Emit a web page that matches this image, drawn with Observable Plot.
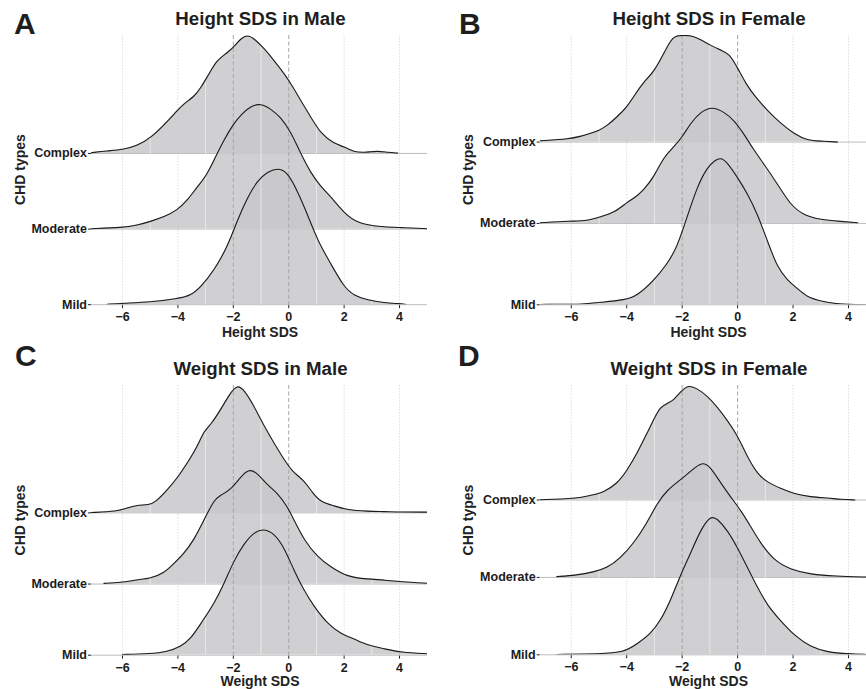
<!DOCTYPE html>
<html><head><meta charset="utf-8">
<script src="https://cdn.jsdelivr.net/npm/d3@7"></script>
<script src="https://cdn.jsdelivr.net/npm/@observablehq/plot@0.6"></script>
<style>
html,body{margin:0;padding:0;background:#fff;overflow:hidden}
#wrap{position:relative;width:866px;height:689px;overflow:hidden;font-family:"Liberation Sans",Arial,Helvetica,sans-serif}
#wrap svg{position:absolute}
svg.ridge text{font-size:12.5px !important;font-weight:bold !important;fill:#1c1c1c}
</style></head><body><div id="wrap"></div>
<script>
// Categories (bottom to top) and axis ticks
const categories = ["Mild", "Moderate", "Complex"];
const xTicks = [-6, -4, -2, 0, 2, 4];
const majorGrid = [-6, -4, 2, 4];
const minorGrid = [-5, -3, -1, 1, 3];
const refLines = [-2, 0];
const panelLetters = ["A", "B", "C", "D"];
const panelTitles = ["Height SDS in Male", "Height SDS in Female", "Weight SDS in Male", "Weight SDS in Female"];
const xLabels = ["Height SDS", "Height SDS", "Weight SDS", "Weight SDS"];
const yLabel = "CHD types";

// Ridge heights [SDS value, height in row units]
const hmComplex = [[-7.13,0.01],[-6.55,0.035],[-6.0,0.05],[-5.47,0.10],[-4.93,0.22],[-4.39,0.42],[-4.02,0.57],[-3.78,0.66],[-3.42,0.75],[-3.18,0.86],[-2.81,1.10],[-2.58,1.23],[-2.34,1.30],[-2.10,1.37],[-1.98,1.41],[-1.73,1.52],[-1.49,1.57],[-1.25,1.52],[-0.89,1.39],[-0.53,1.23],[-0.17,1.06],[0.19,0.86],[0.43,0.70],[0.80,0.48],[1.16,0.26],[1.64,0.13],[2.0,0.09],[2.36,0.02],[2.72,0.01],[3.2,0.035],[3.57,0.013],[3.93,0.005]];
const hmModerate = [[-7.13,0.005],[-6.0,0.02],[-5.47,0.05],[-5.0,0.10],[-4.5,0.16],[-4.02,0.25],[-3.66,0.38],[-3.3,0.56],[-3.0,0.69],[-2.7,0.91],[-2.34,1.18],[-1.98,1.40],[-1.73,1.51],[-1.37,1.63],[-1.01,1.66],[-0.65,1.59],[-0.29,1.48],[0.07,1.29],[0.43,1.00],[0.80,0.74],[1.16,0.56],[1.52,0.43],[2.0,0.21],[2.48,0.08],[3.2,0.03],[4.05,0.02],[5.01,0.005]];
const hmMild = [[-6.55,0.005],[-6.0,0.02],[-5.0,0.035],[-4.02,0.08],[-3.54,0.12],[-3.18,0.23],[-2.7,0.45],[-2.22,0.76],[-1.86,1.11],[-1.49,1.42],[-1.13,1.64],[-0.77,1.76],[-0.35,1.81],[-0.05,1.75],[0.31,1.51],[0.67,1.20],[1.04,0.85],[1.52,0.54],[2.0,0.23],[2.36,0.12],[2.84,0.06],[3.45,0.026],[3.99,0.013],[4.23,0.004]];

const hfComplex = [[-7.12,0.016],[-6.04,0.04],[-5.67,0.07],[-5.37,0.10],[-5.01,0.14],[-4.71,0.20],[-4.35,0.31],[-3.99,0.43],[-3.69,0.59],[-3.39,0.74],[-3.02,0.86],[-2.66,1.09],[-2.42,1.25],[-2.22,1.31],[-1.95,1.31],[-1.65,1.31],[-1.34,1.26],[-0.98,1.19],[-0.61,1.13],[-0.31,1.09],[-0.01,0.92],[0.29,0.72],[0.65,0.55],[1.07,0.39],[1.55,0.23],[2.04,0.10],[2.52,0.02],[3.0,0.012],[3.6,0.0]];
const hfModerate = [[-7.12,0.008],[-6.04,0.03],[-5.43,0.03],[-4.95,0.08],[-4.41,0.14],[-3.99,0.26],[-3.69,0.32],[-3.39,0.41],[-3.02,0.57],[-2.66,0.82],[-2.30,0.94],[-2.0,1.06],[-1.70,1.23],[-1.34,1.37],[-0.92,1.44],[-0.49,1.37],[-0.13,1.27],[0.23,1.10],[0.59,0.90],[0.95,0.73],[1.43,0.49],[1.92,0.22],[2.40,0.10],[3.0,0.045],[3.72,0.025],[4.33,0.008]];
const hfMild = [[-7.12,0.004],[-6.04,0.008],[-5.67,0.004],[-4.95,0.03],[-4.05,0.06],[-3.63,0.11],[-3.02,0.30],[-2.54,0.50],[-2.18,0.71],[-1.82,1.08],[-1.46,1.45],[-1.10,1.69],[-0.80,1.78],[-0.61,1.81],[-0.37,1.75],[-0.01,1.57],[0.35,1.37],[0.71,1.12],[1.07,0.79],[1.43,0.46],[1.80,0.30],[2.16,0.20],[2.52,0.09],[3.0,0.045],[3.6,0.012],[3.96,0.004],[4.69,0.0]];

const wmComplex = [[-7.13,0.005],[-6.19,0.02],[-5.83,0.07],[-5.47,0.11],[-5.05,0.11],[-4.81,0.15],[-4.39,0.32],[-4.02,0.49],[-3.66,0.70],[-3.30,0.93],[-3.06,1.15],[-2.81,1.24],[-2.46,1.45],[-2.10,1.69],[-1.86,1.80],[-1.61,1.73],[-1.25,1.50],[-0.89,1.22],[-0.53,0.98],[-0.17,0.75],[0.13,0.58],[0.55,0.46],[0.86,0.28],[1.16,0.15],[1.64,0.10],[2.12,0.04],[2.84,0.023],[3.45,0.019],[4.05,0.01],[5.01,0.01]];
const wmModerate = [[-6.67,0.01],[-6.07,0.02],[-5.47,0.06],[-4.99,0.08],[-4.51,0.15],[-4.14,0.29],[-3.78,0.43],[-3.42,0.62],[-3.06,0.90],[-2.70,1.18],[-2.46,1.25],[-2.10,1.32],[-1.73,1.51],[-1.43,1.62],[-1.13,1.56],[-0.77,1.39],[-0.41,1.28],[-0.05,1.09],[0.19,0.90],[0.55,0.62],[1.04,0.38],[1.52,0.24],[2.12,0.10],[2.84,0.07],[3.45,0.056],[4.05,0.033],[5.01,0.01]];
const wmMild = [[-6.0,0.01],[-4.99,0.02],[-4.39,0.05],[-3.90,0.12],[-3.54,0.23],[-3.18,0.44],[-2.70,0.72],[-2.34,1.00],[-1.98,1.33],[-1.61,1.57],[-1.25,1.73],[-0.89,1.78],[-0.53,1.71],[-0.17,1.52],[0.19,1.19],[0.55,0.91],[0.92,0.68],[1.40,0.44],[1.88,0.30],[2.36,0.23],[2.84,0.14],[3.45,0.09],[4.05,0.04],[5.01,0.02]];

const wfComplex = [[-7.12,0.004],[-5.80,0.017],[-5.31,0.06],[-4.83,0.10],[-4.35,0.21],[-3.99,0.38],[-3.63,0.60],[-3.27,0.86],[-2.96,1.09],[-2.78,1.20],[-2.54,1.25],[-2.30,1.29],[-2.06,1.40],[-1.76,1.49],[-1.46,1.44],[-1.10,1.35],[-0.73,1.20],[-0.37,1.03],[-0.01,0.84],[0.35,0.56],[0.71,0.34],[1.07,0.23],[1.55,0.15],[2.04,0.08],[2.64,0.04],[3.25,0.026],[3.72,0.009],[4.23,0.0]];
const wfModerate = [[-6.52,0.01],[-5.80,0.03],[-5.19,0.07],[-4.71,0.12],[-4.23,0.25],[-3.75,0.44],[-3.27,0.70],[-2.90,0.96],[-2.54,1.13],[-2.06,1.26],[-1.70,1.37],[-1.28,1.50],[-0.98,1.43],[-0.61,1.22],[-0.25,1.04],[0.11,0.87],[0.47,0.66],[0.83,0.44],[1.31,0.22],[1.92,0.10],[2.64,0.04],[3.48,0.017],[4.69,0.004]];
const wfMild = [[-6.52,0.004],[-4.95,0.013],[-4.11,0.03],[-3.63,0.14],[-3.14,0.27],[-2.78,0.44],[-2.42,0.70],[-2.06,1.03],[-1.70,1.31],[-1.34,1.61],[-0.98,1.80],[-0.73,1.76],[-0.37,1.61],[-0.01,1.39],[0.35,1.13],[0.71,0.875],[1.07,0.64],[1.55,0.44],[2.04,0.25],[2.64,0.10],[3.25,0.034],[3.96,0.013],[4.69,0.004]];

const panelRows = [
  [hmMild, hmModerate, hmComplex],
  [hfMild, hfModerate, hfComplex],
  [wmMild, wmModerate, wmComplex],
  [wfMild, wfModerate, wfComplex]
];
const yTops = [3.56, 3.31, 3.79, 3.48];

// layout (pixels)
const layout = [
  {left: 0,   top: 0,   width: 433, height: 330, mL: 91,    mR: 6, mT: 35, mB: 25.8},
  {left: 433, top: 0,   width: 443, height: 330, mL: 106.7, mR: 0, mT: 35, mB: 25.7},
  {left: 0,   top: 340, width: 433, height: 349, mL: 91,    mR: 6, mT: 45, mB: 34.3},
  {left: 433, top: 340, width: 443, height: 349, mL: 106.7, mR: 0, mT: 45, mB: 34.7}
];

const wrap = document.getElementById("wrap");
const FONT = '"Liberation Sans", Arial, Helvetica, sans-serif';
const CURVE = "basis";

panelRows.forEach((rows, p) => {
  const L = layout[p];
  const tables = rows.map((pts, i) => pts.map(([x, h]) => ({x, base: i, top: i + h})));
  const marks = [
    Plot.ruleX(majorGrid, {stroke: "#d4d4d4", strokeWidth: 0.8, strokeDasharray: "1.5,1.5"}),
    Plot.ruleY([0, 1, 2], {stroke: "#bdbdbd", strokeWidth: 1})
  ];
  for (let i = 2; i >= 0; i--) {
    marks.push(Plot.areaY(tables[i], {x: "x", y1: "base", y2: "top", fill: "#c8c8ca", fillOpacity: 0.85, curve: CURVE, clip: true}));
  }
  marks.push(Plot.ruleX(minorGrid, {stroke: "#ffffff", strokeWidth: 0.9, strokeOpacity: 0.6}));
  marks.push(Plot.ruleX(refLines, {stroke: "#a6a6a6", strokeWidth: 1, strokeDasharray: "4,2.5"}));
  for (let i = 2; i >= 0; i--) {
    marks.push(Plot.lineY(tables[i], {x: "x", y: "top", stroke: "#1a1a1a", strokeWidth: 1.1, curve: CURVE, clip: true}));
  }
  const svg = Plot.plot({
    className: "ridge",
    width: L.width, height: L.height,
    marginLeft: L.mL, marginRight: L.mR, marginTop: L.mT, marginBottom: L.mB,
    style: {fontFamily: FONT, fontSize: "12.5px", fontWeight: "bold", color: "#222", background: "transparent", overflow: "visible"},
    x: {domain: [-7.12, 5.01], ticks: xTicks, tickSize: 4, tickPadding: 3.5, label: null},
    y: {domain: [0, yTops[p]], ticks: [0, 1, 2], tickFormat: d => categories[d], tickSize: 3, tickPadding: 1.5, label: null},
    marks
  });
  svg.classList.add("ridge");
  svg.style.left = L.left + "px";
  svg.style.top = L.top + "px";
  wrap.appendChild(svg);
});

// overlay text: panel letters, titles, axis titles
const ov = d3.select(wrap).append("svg")
  .attr("width", 866).attr("height", 689)
  .style("left", "0px").style("top", "0px").style("pointer-events", "none")
  .attr("font-family", FONT).attr("font-weight", "bold").attr("fill", "#1e1e1e");

const letterPos = [[14, 34.3], [459, 34.3], [15, 366], [458, 366]];
const titlePos = [[260.5, 25], [709, 25], [260.5, 375], [709, 375]];
const xLabPos = [[260, 337], [708.5, 337], [260, 686], [708.5, 686]];
const yLabPos = [[24.5, 169.6], [472.5, 169.6], [24.5, 520], [472.5, 520]];

panelLetters.forEach((t, i) => {
  ov.append("text").attr("x", letterPos[i][0]).attr("y", letterPos[i][1]).attr("font-size", 30).text(t);
  ov.append("text").attr("x", titlePos[i][0]).attr("y", titlePos[i][1]).attr("font-size", 18.7).attr("text-anchor", "middle").text(panelTitles[i]);
  ov.append("text").attr("x", xLabPos[i][0]).attr("y", xLabPos[i][1]).attr("font-size", 14).attr("text-anchor", "middle").attr("fill", "#222").text(xLabels[i]);
  ov.append("text").attr("transform", `translate(${yLabPos[i][0]},${yLabPos[i][1]}) rotate(-90)`).attr("font-size", 14).attr("text-anchor", "middle").attr("fill", "#222").text(yLabel);
});
</script></body></html>
